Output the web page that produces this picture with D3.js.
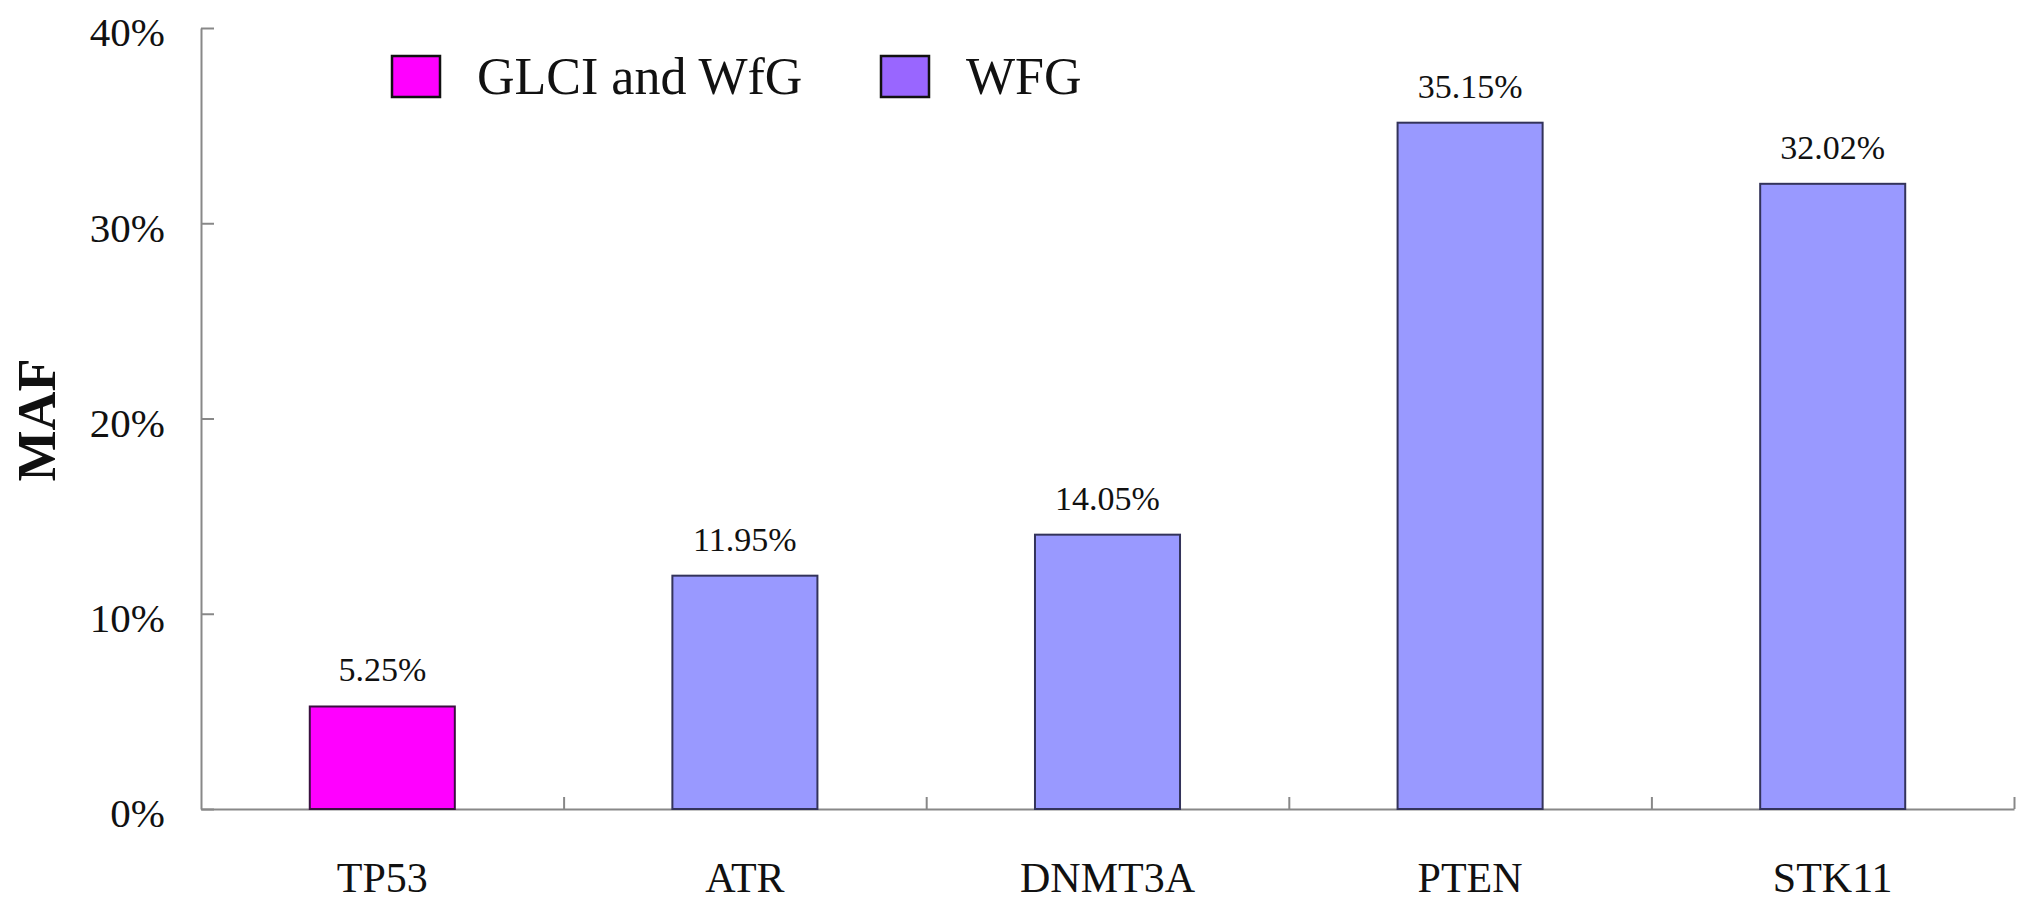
<!DOCTYPE html>
<html>
<head>
<meta charset="utf-8">
<script src="https://cdn.jsdelivr.net/npm/d3@7"></script>
<style>
  html, body { margin: 0; padding: 0; background: #fff; }
  svg text { font-family: "Liberation Serif", "Times New Roman", serif; fill: #111; }
</style>
</head>
<body>
<div id="chart"></div>
<script>
// data
var genes = ["TP53", "ATR", "DNMT3A", "PTEN", "STK11"];
var maf = [5.25, 11.95, 14.05, 35.15, 32.02];
var groups = ["GLCI and WfG", "WFG", "WFG", "WFG", "WFG"];
var legendNames = ["GLCI and WfG", "WFG"];
var yTicks = [0, 10, 20, 30, 40];

var W = 2031, H = 907;
var plotLeft = 201, plotRight = 2014, plotTop = 28, plotBottom = 809;

var svg = d3.select("#chart").append("svg")
    .attr("width", W).attr("height", H);

var x = d3.scaleBand().domain(genes).range([plotLeft, plotRight])
    .paddingInner(0.6).paddingOuter(0.3);
var xEdges = d3.scaleLinear().domain([0, genes.length]).range([plotLeft, plotRight]);
var y = d3.scaleLinear().domain([0, 40]).range([plotBottom, plotTop]);

var barFill = d3.scaleOrdinal().domain(legendNames).range(["#ff00ff", "#9999ff"]);
var legendFill = d3.scaleOrdinal().domain(legendNames).range(["#ff00ff", "#9966ff"]);

// y axis, ticks pointing inward
var yAxis = svg.append("g").attr("transform", "translate(" + plotLeft + ",0)")
    .call(d3.axisRight(y).tickValues(yTicks).tickSize(13).tickSizeOuter(0).tickFormat(""));
yAxis.select(".domain").attr("stroke", "#888").attr("stroke-width", 2);
yAxis.selectAll(".tick line").attr("stroke", "#888").attr("stroke-width", 2);

svg.append("g").selectAll("text").data(yTicks).enter().append("text")
    .attr("x", plotLeft - 36)
    .attr("y", function(d) { return y(d); })
    .attr("dy", "0.45em")
    .attr("text-anchor", "end")
    .style("font-size", "41px")
    .text(function(d) { return d + "%"; });

// x axis, ticks at band edges pointing up
var xAxis = svg.append("g").attr("transform", "translate(0," + plotBottom + ")")
    .call(d3.axisTop(xEdges).tickValues([1, 2, 3, 4, 5]).tickSize(12).tickFormat("").tickSizeOuter(0));
xAxis.select(".domain").attr("stroke", "#888").attr("stroke-width", 2);
xAxis.selectAll(".tick line").attr("stroke", "#888").attr("stroke-width", 2);

svg.append("g").selectAll("text").data(genes).enter().append("text")
    .attr("x", function(d) { return x(d) + x.bandwidth() / 2; })
    .attr("y", 892)
    .attr("text-anchor", "middle")
    .style("font-size", "42px")
    .text(function(d) { return d; });

// bars
svg.append("g").selectAll("rect").data(genes).enter().append("rect")
    .attr("x", function(d) { return x(d); })
    .attr("y", function(d, i) { return y(maf[i]); })
    .attr("width", x.bandwidth())
    .attr("height", function(d, i) { return plotBottom - y(maf[i]); })
    .attr("fill", function(d, i) { return barFill(groups[i]); })
    .attr("stroke", function(d, i) { return i === 0 ? "#3a1040" : "#33335a"; })
    .attr("stroke-width", 2);

// value labels
svg.append("g").selectAll("text").data(genes).enter().append("text")
    .attr("x", function(d) { return x(d) + x.bandwidth() / 2; })
    .attr("y", function(d, i) { return y(maf[i]) - 25; })
    .attr("text-anchor", "middle")
    .style("font-size", "34px")
    .text(function(d, i) { return maf[i].toFixed(2) + "%"; });

// y title
svg.append("text")
    .attr("transform", "translate(55,420) rotate(-90)")
    .attr("text-anchor", "middle")
    .style("font-size", "54px")
    .style("font-weight", "bold")
    .text("MAF");

// legend
var legX = [392, 881];
var leg = svg.append("g").selectAll("g").data(legendNames).enter().append("g")
    .attr("transform", function(d, i) { return "translate(" + legX[i] + ",56)"; });
leg.append("rect")
    .attr("width", 48).attr("height", 41)
    .attr("fill", function(d) { return legendFill(d); })
    .attr("stroke", "#111").attr("stroke-width", 2.5);
leg.append("text")
    .attr("x", 85).attr("y", 38)
    .style("font-size", "52px")
    .text(function(d) { return d; });
</script>
</body>
</html>
